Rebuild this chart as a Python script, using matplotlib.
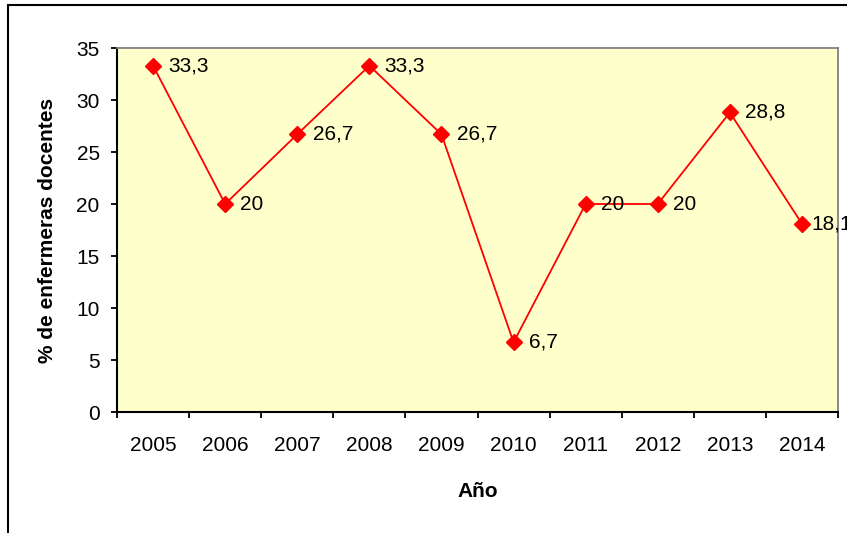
import matplotlib
matplotlib.use("Agg")
import matplotlib.pyplot as plt
from matplotlib.patches import Rectangle

years = ["2005", "2006", "2007", "2008", "2009", "2010", "2011", "2012", "2013", "2014"]
values = [33.3, 20, 26.7, 33.3, 26.7, 6.7, 20, 20, 28.8, 18.1]
labels = ["33,3", "20", "26,7", "33,3", "26,7", "6,7", "20", "20", "28,8", "18,1"]

plt.rcParams['font.family'] = ['Liberation Sans', 'DejaVu Sans']

W, H = 847, 533
fig = plt.figure(figsize=(W / 100, H / 100), dpi=100)
ax = fig.add_axes([117 / W, 1 - 412 / H, (838 - 117) / W, (412 - 48) / H])
ax.set_facecolor('#FFFFCC')

# outer chart border (right/bottom fall off the picture)
fig.patches.append(Rectangle((8 / W, -0.1), 1.2, 1 - 5 / H + 0.1, transform=fig.transFigure,
                             fill=False, edgecolor='black', linewidth=1.5, zorder=0))

x = list(range(len(years)))
ax.plot(x, values, color='red', linewidth=1.3, marker='D', markersize=8,
        markerfacecolor='red', markeredgecolor='red', zorder=3)
for xi, v, lab in zip(x, values, labels):
    # last label gets pushed in a little, as in the original
    dx = 7 if xi == len(x) - 1 else 11
    ax.annotate(lab, (xi, v), xytext=(dx, 0), textcoords='offset points',
                va='center', ha='left', fontsize=15, clip_on=False, annotation_clip=False)

ax.set_xlim(-0.5, len(years) - 0.5)
ax.set_ylim(0, 35)
ax.set_yticks(range(0, 36, 5))
ax.set_xticks([i - 0.5 for i in range(len(years) + 1)])
ax.set_xticklabels([])
ax.set_xticks(x, minor=True)
ax.set_xticklabels(years, minor=True)
ax.tick_params(axis='x', which='minor', length=0, pad=17, labelsize=15)
ax.tick_params(axis='x', which='major', length=4.5, width=1.3, direction='out')
ax.tick_params(axis='y', length=4.5, width=1.3, direction='out', labelsize=15, pad=8)

for side in ['top', 'right']:
    ax.spines[side].set_color('#808080')
    ax.spines[side].set_linewidth(1.3)
for side in ['left', 'bottom']:
    ax.spines[side].set_color('black')
    ax.spines[side].set_linewidth(1.5)

ax.set_xlabel('Año', fontsize=15, fontweight='bold', labelpad=20)
ax.set_ylabel('% de enfermeras docentes', fontsize=15, fontweight='bold', labelpad=14)

fig.savefig('out.png', dpi=100)
